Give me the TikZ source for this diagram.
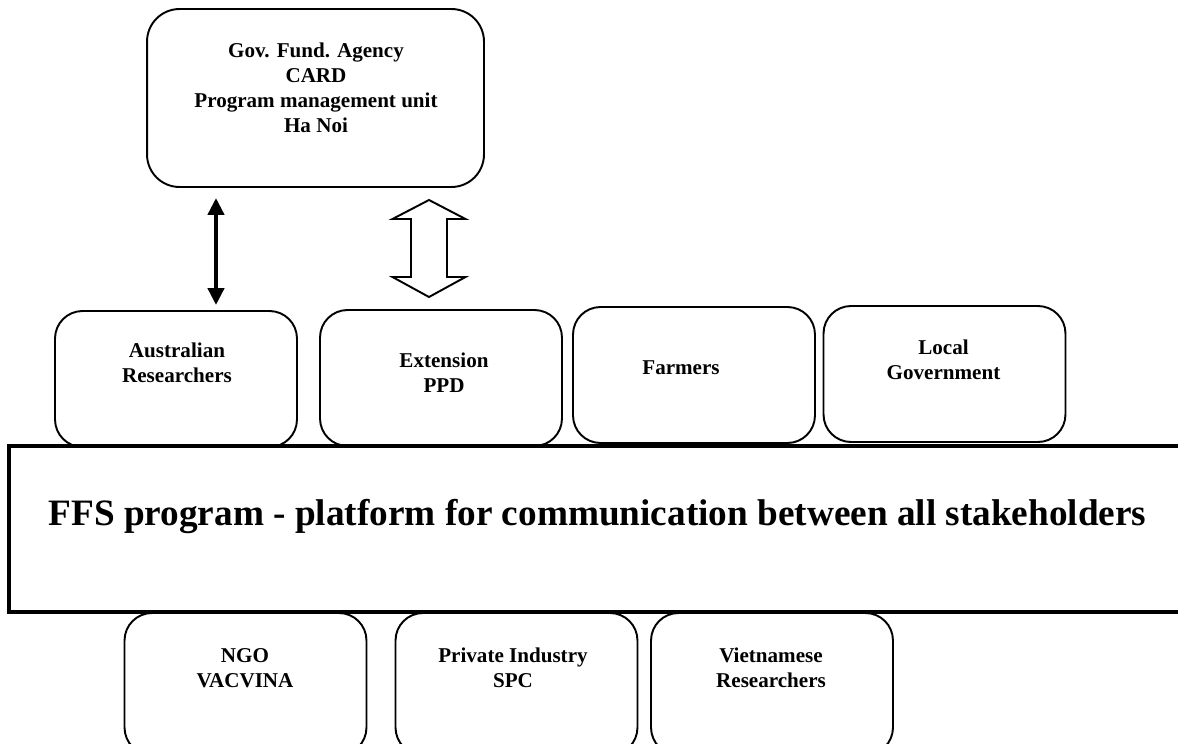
\documentclass[tikz,border=0pt]{standalone}
\usepackage{fontspec}
\setmainfont{Liberation Serif}
\usetikzlibrary{arrows.meta}

\begin{document}
\begin{tikzpicture}[x=0.02cm, y=-0.02cm,
    box/.style={draw, line width=1.1pt, rounded corners=0.55cm,
      minimum width=4.84cm, minimum height=2.72cm, inner sep=0pt},
    lbl/.style={font=\fontsize{12}{14.2}\selectfont\bfseries, align=center, inner sep=0pt},
  ]
  \useasboundingbox (0,0) rectangle (1178,744);
  \clip (0,0) rectangle (1178,744);

  % Platform bar
  \node[draw, line width=2pt, minimum width=23.82cm, minimum height=3.32cm, inner sep=0pt] (ffs) at (604.5,529) {};
  \node[anchor=base, inner sep=0pt, font=\fontsize{21.2}{25}\selectfont\bfseries] (ffs-t) at (597.5,525)
    {FFS program - platform for communication between all stakeholders};

  % Funding agency
  \node[box, rounded corners=0.65cm, minimum width=6.74cm, minimum height=3.56cm] (gov) at (315.5,98) {};
  \node[lbl] (gov-t) at (316,88) {Gov. Fund. Agency\\CARD\\Program management unit\\Ha Noi};

  % Boxes above the bar
  \node[box] (aus) at (176,379) {};
  \node[box] (ext) at (441,378) {};
  \node[box] (farm) at (694,375) {};
  \node[box] (local) at (944.5,374) {};

  % Boxes below the bar
  \node[box, minimum height=2.84cm] (ngo) at (245.5,684) {};
  \node[box, minimum height=2.84cm] (priv) at (516.5,684) {};
  \node[box, minimum height=2.84cm] (viet) at (772,684) {};

  % Labels inside the boxes
  \node[lbl] (aus-t) at (177,363) {Australian\\Researchers};
  \node[lbl] (ext-t) at (444,373) {Extension\\PPD};
  \node[lbl] (farm-t) at (681,368) {Farmers};
  \node[lbl] (local-t) at (943.5,360) {Local\\Government};
  \node[lbl] (ngo-t) at (245,668) {NGO\\VACVINA};
  \node[lbl] (priv-t) at (513,668) {Private Industry\\SPC};
  \node[lbl] (viet-t) at (771,668) {Vietnamese\\Researchers};

  % Arrows to the agency
  \coordinate (ax) at (216,0);
  \draw[line width=2.4pt, {Triangle[width=0.32cm,length=0.34cm]}-{Triangle[width=0.32cm,length=0.34cm]},
    shorten <=0.2cm, shorten >=0.1cm] (gov.south -| ax) -- (aus.north -| ax);
  \coordinate (hc) at (429,248.5);
  \draw[line width=1.1pt, line join=miter, shift={(hc)}]
    (0,-48.5) -- (36.5,-29.5) -- (18,-29.5) -- (18,28.5) -- (36.5,28.5) -- (0,48.5)
    -- (-36.5,28.5) -- (-18,28.5) -- (-18,-29.5) -- (-36.5,-29.5) -- cycle;
\end{tikzpicture}
\end{document}
